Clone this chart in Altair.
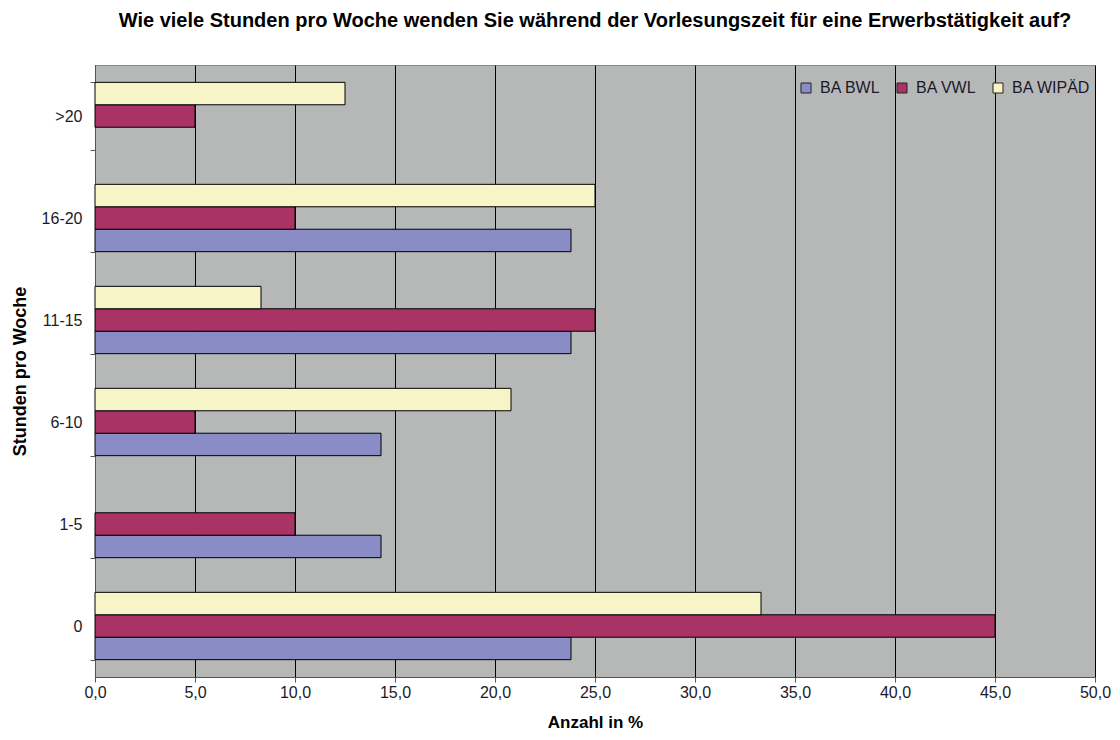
import altair as alt
import pandas as pd

categories = [">20", "16-20", "11-15", "6-10", "1-5", "0"]
series = ["BA BWL", "BA VWL", "BA WIPÄD"]
bwl = [0, 23.8, 23.8, 14.3, 14.3, 23.8]
vwl = [5.0, 10.0, 25.0, 5.0, 10.0, 45.0]
wipaed = [12.5, 25.0, 8.3, 20.8, 0, 33.3]
colors = ["#8A8CC6", "#AA3366", "#F7F5C8"]

rows = []
for name, vals in zip(series, [bwl, vwl, wipaed]):
    for c, v in zip(categories, vals):
        if v > 0:
            rows.append({"Stunden": c, "Studiengang": name, "Wert": v})
df = pd.DataFrame(rows)

font = "Liberation Sans"

chart = alt.Chart(df).mark_bar(stroke="black", strokeWidth=1).encode(
    x=alt.X("Wert:Q",
            scale=alt.Scale(domain=[0, 50], nice=False, zero=True),
            axis=alt.Axis(values=list(range(0, 55, 5)),
                          labelExpr="replace(format(datum.value, '.1f'), '.', ',')",
                          title="Anzahl in %", grid=True, gridColor="black",
                          gridWidth=1, gridOpacity=1, labelFlush=False,
                          domainColor="#555555", tickColor="#555555", tickSize=5,
                          labelFontSize=16, labelColor="#1a1a2a", labelPadding=2,
                          titleFontSize=17, titleFontWeight="bold",
                          titleY=50, titleBaseline="alphabetic")),
    y=alt.Y("Stunden:N", sort=categories,
            scale=alt.Scale(paddingInner=0.34, paddingOuter=0.17),
            axis=alt.Axis(title="Stunden pro Woche", tickBand="extent",
                          domainColor="#555555", tickColor="#555555", tickSize=5,
                          labelFontSize=16, labelColor="#1a1a2a", labelPadding=8,
                          titleFontSize=18, titleFontWeight="bold",
                          titleAngle=270, titleX=-75, titleY=306,
                          titleAlign="center", titleBaseline="middle")),
    yOffset=alt.YOffset("Studiengang:N",
                        scale=alt.Scale(domain=["BA WIPÄD", "BA VWL", "BA BWL"],
                                        paddingInner=0, paddingOuter=0)),
    color=alt.Color("Studiengang:N",
                    scale=alt.Scale(domain=series, range=colors),
                    legend=alt.Legend(title=None, orient="none", direction="horizontal",
                                      legendX=703, legendY=15,
                                      symbolType="square", symbolSize=100,
                                      symbolStrokeColor="#222222", symbolStrokeWidth=1,
                                      labelFontSize=16, labelColor="#1a1a2a",
                                      columnPadding=13, labelOffset=6)),
).properties(
    width=1000, height=612,
    autosize=alt.AutoSizeParams(type="none"),
    padding={"left": 87, "top": 57, "right": 17, "bottom": 55},
    title=alt.TitleParams("Wie viele Stunden pro Woche wenden Sie während der Vorlesungszeit für eine Erwerbstätigkeit auf?",
                          fontSize=20, fontWeight="bold", font=font, anchor="middle",
                          offset=26, color="black"),
).configure(font=font).configure_view(fill="#B6B8B8", stroke="#8a8a8a", strokeWidth=1)

chart.save("out.html", embed_options={"renderer": "svg", "actions": False})
